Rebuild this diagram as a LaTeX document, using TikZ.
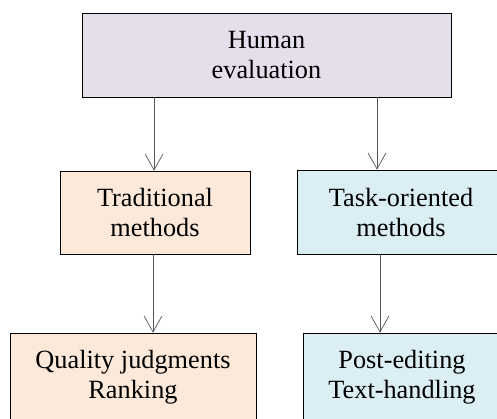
\documentclass[tikz,border=0pt]{standalone}
\usepackage{fontspec}
\setmainfont{Liberation Serif}
\usetikzlibrary{arrows.meta}
\definecolor{lav}{HTML}{E5DFEC}
\definecolor{peach}{HTML}{FDE9D9}
\definecolor{sky}{HTML}{DAEEF3}
\definecolor{arrowgray}{HTML}{555555}
\begin{document}
\begin{tikzpicture}[x=1pt,y=-1pt,
  box/.style={draw=black, line width=0.8pt, align=center, inner sep=0pt,
    font=\fontsize{26.3}{30}\selectfont},
  arr/.style={draw=arrowgray, line width=0.7pt,
    -{Straight Barb[length=16pt,width=18pt,line width=0.7pt]}}]
\useasboundingbox (0,0) rectangle (497,418);
\clip (0,0) rectangle (497,418);
\node[box, fill=lav, minimum width=369pt, minimum height=84pt] (top) at (266.5,55) {Human\\evaluation};
\node[box, fill=peach, minimum width=190pt, minimum height=83pt] (trad) at (155,212.5) {Traditional\\methods};
\node[box, fill=sky, minimum width=208pt, minimum height=84pt] (task) at (401,212) {Task-oriented\\methods};
\node[box, fill=peach, minimum width=246pt, minimum height=88pt] (qual) at (133,377) {Quality judgments\\Ranking};
\node[box, fill=sky, minimum width=198pt, minimum height=88pt] (post) at (402,377) {Post-editing\\Text-handling};
% connectors
\draw[arr] ([xshift=-1pt]trad.north |- top.south) -- ([xshift=-1pt]trad.north);
\draw[arr] ([xshift=-24pt]task.north |- top.south) -- ([xshift=-24pt]task.north);
\draw[arr] ([xshift=-2pt]trad.south) -- ([xshift=-2pt]trad.south |- qual.north);
\draw[arr] ([xshift=-21pt]task.south) -- ([xshift=-21pt]task.south |- post.north);
\end{tikzpicture}
\end{document}
